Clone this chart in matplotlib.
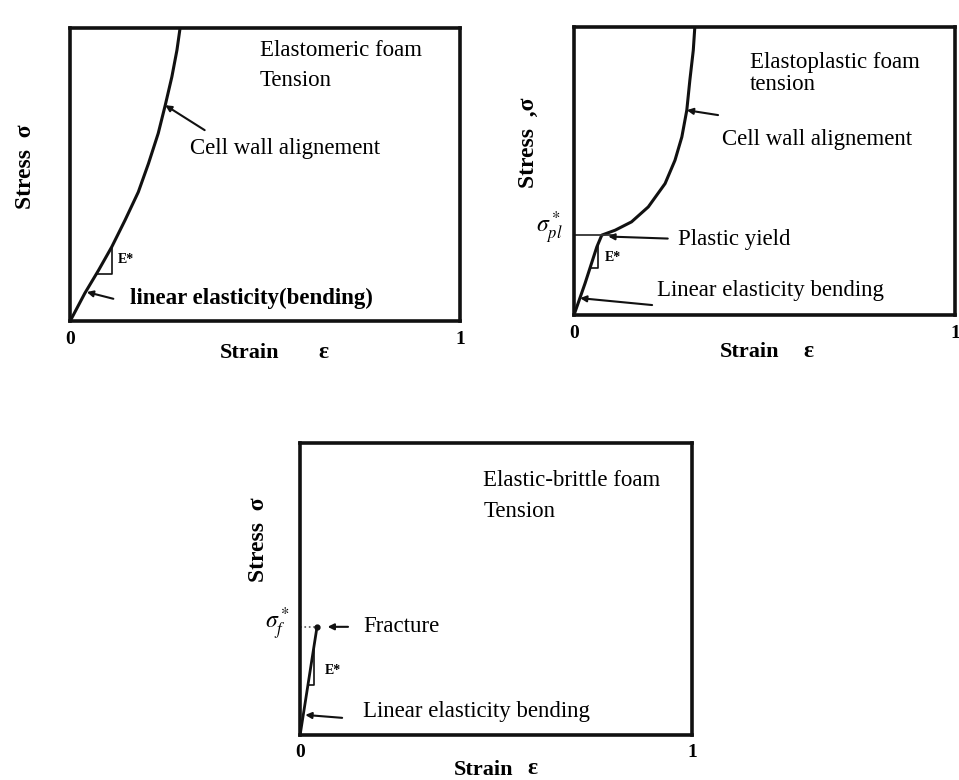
import numpy as np
import matplotlib
import matplotlib.pyplot as plt

matplotlib.use("Agg")

plt.rcParams["font.family"] = ["Liberation Serif", "DejaVu Serif"]
plt.rcParams["mathtext.fontset"] = "stix"

# curves (strain, stress), both scaled 0..1
elastomeric_strain = [0.0, 0.038, 0.073, 0.107, 0.141, 0.175, 0.201, 0.226,
                      0.244, 0.261, 0.274, 0.282]
elastomeric_stress = [0.0, 0.096, 0.174, 0.254, 0.345, 0.441, 0.538, 0.641,
                      0.737, 0.834, 0.925, 1.0]

elastoplastic_strain = [0.0, 0.029, 0.060, 0.073, 0.108, 0.151, 0.195, 0.239,
                        0.265, 0.283, 0.296, 0.304, 0.313, 0.317]
elastoplastic_stress = [0.0, 0.110, 0.237, 0.278, 0.295, 0.324, 0.376, 0.457,
                        0.538, 0.619, 0.712, 0.816, 0.920, 1.0]
yield_stress = 0.278

brittle_strain = [0.0, 0.043]
brittle_stress = [0.0, 0.37]
fracture_stress = 0.37

tick_vals = [0, 1]
tick_labels = ["0", "1"]

FS = 16.5
LFS = 16


def frame(ax, ylabel, ylab_xy, xlab_xy, eps_x):
    ax.set_xlim(0, 1)
    ax.set_ylim(0, 1)
    for sp in ax.spines.values():
        sp.set_linewidth(2.6)
        sp.set_color("#111111")
    ax.set_xticks(tick_vals)
    ax.set_xticklabels(tick_labels, fontsize=14, fontweight="bold")
    ax.set_yticks([])
    ax.tick_params(axis="x", length=0, pad=7)
    ax.set_xlabel("Strain", fontsize=LFS, fontweight="bold")
    ax.xaxis.set_label_coords(*xlab_xy)
    ax.text(eps_x, xlab_xy[1] + 0.005, "\u03b5", fontsize=LFS + 1,
            fontweight="bold", ha="center", va="top", transform=ax.transAxes)
    ax.set_ylabel(ylabel, fontsize=LFS + 1, fontweight="bold")
    ax.yaxis.set_label_coords(*ylab_xy)


def arrow(ax, head, tail):
    ax.annotate("", xy=head, xytext=tail,
                arrowprops=dict(arrowstyle="-|>", lw=1.5, color="#111111",
                                mutation_scale=9, shrinkA=0, shrinkB=0))


def slope_triangle(ax, xs, ys, x0, x1, lab_xy):
    y0 = np.interp(x0, xs, ys)
    y1 = np.interp(x1, xs, ys)
    ax.plot([x0, x1, x1], [y0, y0, y1], color="#111111", lw=1.2)
    ax.text(lab_xy[0], lab_xy[1], "E*", fontsize=10, fontweight="bold",
            va="center")


fig = plt.figure(figsize=(9.59, 7.8), dpi=100)

# ---- elastomeric foam
ax1 = fig.add_axes([0.073, 0.588, 0.407, 0.376])
frame(ax1, "Stress  \u03c3", (-0.087, 0.526), (0.459, -0.075), 0.649)
ax1.plot(elastomeric_strain, elastomeric_stress, color="#111111", lw=2.2)
ax1.text(0.487, 0.925, "Elastomeric foam", fontsize=FS, va="center")
ax1.text(0.487, 0.822, "Tension", fontsize=FS, va="center")
ax1.text(0.308, 0.590, "Cell wall alignement", fontsize=FS, va="center")
arrow(ax1, (0.244, 0.737), (0.345, 0.652))
ax1.text(0.154, 0.078, "linear elasticity(bending)", fontsize=FS,
         fontweight="bold", va="center")
arrow(ax1, (0.043, 0.100), (0.111, 0.077))
slope_triangle(ax1, elastomeric_strain, elastomeric_stress, 0.068, 0.107,
               (0.122, 0.212))

# ---- elastoplastic foam
ax2 = fig.add_axes([0.5985, 0.596, 0.3975, 0.369])
frame(ax2, "Stress  ,\u03c3", (-0.092, 0.60), (0.46, -0.095), 0.614)
ax2.plot(elastoplastic_strain, elastoplastic_stress, color="#111111", lw=2.2)
ax2.plot([0, 0.108], [yield_stress, yield_stress], color="#333333", lw=1.3)
ax2.text(-0.03, yield_stress + 0.025, r"$\sigma^*_{pl}$", fontsize=17,
         ha="right", va="center")
ax2.text(0.462, 0.878, "Elastoplastic foam", fontsize=FS, va="center")
ax2.text(0.462, 0.800, "tension", fontsize=FS, va="center")
ax2.text(0.388, 0.610, "Cell wall alignement", fontsize=FS, va="center")
arrow(ax2, (0.296, 0.712), (0.378, 0.695))
ax2.text(0.272, 0.262, "Plastic yield", fontsize=FS, va="center")
arrow(ax2, (0.090, yield_stress - 0.005), (0.246, yield_stress - 0.012))
ax2.text(0.218, 0.085, "Linear elasticity bending", fontsize=FS, va="center")
arrow(ax2, (0.016, 0.059), (0.205, 0.035))
slope_triangle(ax2, elastoplastic_strain, elastoplastic_stress, 0.042, 0.062,
               (0.082, 0.200))

# ---- elastic-brittle foam
ax3 = fig.add_axes([0.313, 0.058, 0.409, 0.374])
frame(ax3, "Stress  \u03c3", (-0.079, 0.67), (0.467, -0.085), 0.592)
ax3.plot(brittle_strain, brittle_stress, color="#111111", lw=2.0)
ax3.plot([0, brittle_strain[-1]], [fracture_stress, fracture_stress],
         color="#555555", lw=1.2, ls=":")
ax3.plot(brittle_strain[-1], fracture_stress, "o", color="#111111", ms=3.5)
ax3.text(-0.025, fracture_stress + 0.01, r"$\sigma^*_f$", fontsize=17,
         ha="right", va="center")
ax3.text(0.467, 0.873, "Elastic-brittle foam", fontsize=FS, va="center")
ax3.text(0.467, 0.764, "Tension", fontsize=FS, va="center")
ax3.text(0.161, fracture_stress, "Fracture", fontsize=FS, va="center")
arrow(ax3, (0.070, fracture_stress), (0.122, fracture_stress))
ax3.text(0.161, 0.079, "Linear elasticity bending", fontsize=FS, va="center")
arrow(ax3, (0.013, 0.068), (0.107, 0.058))
slope_triangle(ax3, brittle_strain, brittle_stress, 0.020, 0.035,
               (0.062, 0.22))

fig.savefig("out.png", dpi=100)
plt.close(fig)
